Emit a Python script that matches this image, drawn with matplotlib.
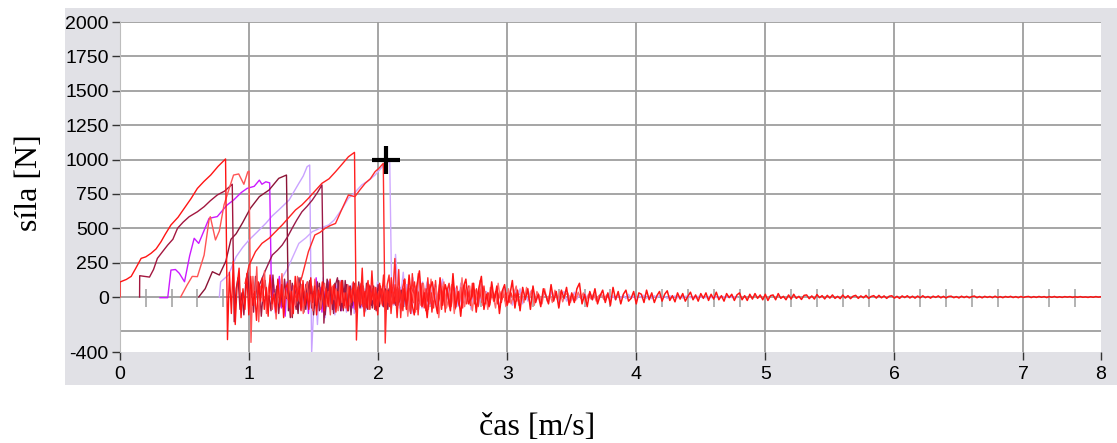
import numpy as np
import matplotlib
matplotlib.use("Agg")
import matplotlib.pyplot as plt
from matplotlib.patches import Rectangle

plt.rcParams['axes.unicode_minus'] = False

# ramps: (time, force) before failure, then the ringing after the drop
t_red1 = [0, 0, 0.05, 0.087, 0.12, 0.164, 0.20, 0.241, 0.28, 0.318, 0.35, 0.395, 0.45, 0.498, 0.55, 0.60, 0.65, 0.703, 0.76, 0.818]
f_red1 = [0, 109, 128, 150, 205, 281, 292, 318, 350, 402, 455, 524, 580, 645, 715, 790, 840, 887, 950, 1004]
n_red1 = [-310, 180, -120, 260, -200, 90, 210, -150, 60, -90, 170, -130, 150, -60, 40, -170, 110, -30, 140, -90,
          70, -140, 160, -50, 20, -110, 130, -70, 90, -150, 60, 100, -80, 40, -120, 150, -30, 70, -100, 120,
          -60, 30, -90, 140, -40, 80, -130, 50, -20, 110, -100, 60, -70, 130, -50, 90, -110, 40, -60, 120,
          -80, 30, -100, 70, -40, 110, -90, 50, -30, 100, -70, 40, -80, 90, -50, 60, -90, 30, -40, 80,
          -60, 50, -70, 40, -30, 70, -50, 30, -60, 50, -40, 60, -30, 40, -50, 30, -40, 50, -20, 40]

t_mar1 = [0.152, 0.153, 0.19, 0.229, 0.26, 0.29, 0.33, 0.37, 0.41, 0.446, 0.49, 0.536, 0.60, 0.652, 0.70, 0.754, 0.81, 0.87]
f_mar1 = [0, 155, 150, 145, 200, 281, 330, 378, 420, 500, 545, 584, 620, 657, 700, 742, 770, 820]
n_mar1 = [-180, 60, 140, -90, 30, -130, 110, 180, -40, 70, -110, 150, -20, 90, -140, 40, 120, -60, 10, -100,
          160, -30, 80, -120, 50, -70, 130, -10, 60, -150, 100, 20, -90, 140, -50, 30, -110, 90, -20, 120,
          -80, 40, -60, 110, -100, 20, 70, -130, 90, -30, 50, -90, 100, -40, 20, -80, 120, -60, 30, -100,
          80, -20, 60, -110, 70, -40, 90, -70, 30, -50, 80, -60, 40, -80, 60, -30, 50, -70, 40, -20, 60, -50, 30, -40, 50]

t_mag = [0.31, 0.37, 0.395, 0.43, 0.46, 0.50, 0.54, 0.575, 0.61, 0.65, 0.69, 0.754, 0.83, 0.88, 0.94, 0.985, 1.04, 1.08, 1.10, 1.13, 1.16]
f_mag = [-5, -5, 196, 200, 172, 111, 300, 427, 390, 480, 572, 585, 669, 705, 760, 790, 805, 850, 820, 838, 830]
n_mag = [-60, 90, -120, 40, 150, -80, 20, -140, 110, -40, 80, -100, 60, -20, 130, -90, 30, -60, 100, -120,
         50, 10, -80, 140, -30, 70, -110, 40, -50, 120, -70, 20, -90, 80, -40, 60, -100, 30, -20, 90,
         -60, 40, -80, 70, -30, 50, -70, 60, -40, 30, -60, 80, -20, 40, -50, 60, -30, 20, -40, 50,
         -30, 40, -20, 30, -40, 30, -20, 40, -30, 20]

t_pink = [0.47, 0.52, 0.56, 0.60, 0.652, 0.69, 0.70, 0.74, 0.77, 0.806, 0.85, 0.88, 0.92, 0.96, 0.99, 1.0]
f_pink = [0, 87, 150, 148, 305, 560, 584, 415, 480, 669, 800, 887, 895, 820, 910, 915]
n_pink = [-330, 150, -60, 220, -180, 80, -30, 190, -120, 60, 140, -90, 30, -160, 100, -40, 170, -110, 50, -20,
          120, -140, 80, -60, 150, -30, 90, -120, 40, 110, -70, 20, -100, 130, -50, 70, -90, 30, 100, -60,
          40, -130, 80, -20, 60, -100, 110, -40, 30, -80, 90, -60, 50, -30, 100, -70, 20, -50, 80, -40,
          60, -90, 30, -20, 70, -60, 40, -50, 60, -30, 50, -40, 30, -50, 40, -30]

t_mar2 = [0.61, 0.66, 0.716, 0.77, 0.82, 0.86, 0.90, 0.95, 1.01, 1.08, 1.155, 1.23, 1.29]
f_mar2 = [0, 60, 184, 160, 260, 420, 460, 540, 645, 730, 778, 863, 887]
n_mar2 = [-100, 120, -150, 60, 20, -120, 140, -70, 40, -90, 110, -30, 80, -130, 50, -10, 100, -80, 30, -110,
          130, -50, 70, -90, 40, -20, 120, -100, 60, -40, 90, -70, 20, -60, 100, -30, 50, -80, 70, -20,
          40, -90, 60, -50, 80, -30, 30, -70, 50, -40, 60, -20, 40, -60, 30, -30, 50, -40, 20, -30, 40, -20, 30, -30, 20]

t_lav1 = [0.77, 0.78, 0.84, 0.90, 0.95, 1.0, 1.06, 1.13, 1.18, 1.23, 1.31, 1.386, 1.42, 1.45, 1.47]
f_lav1 = [0, 110, 160, 293, 360, 415, 470, 536, 590, 633, 705, 827, 880, 948, 960]
n_lav1 = [-405, -100, 60, -200, 80, -60, 140, -150, 30, 110, -90, 50, -130, 90, -40, 120, -70, 20, -110, 80,
          -50, 100, -120, 40, -30, 90, -80, 60, -100, 30, 70, -60, 40, -90, 110, -20, 50, -70, 80, -40,
          30, -60, 90, -50, 20, -40, 70, -30, 50, -60, 40, -20, 60, -40, 30, -50, 40, -30, 20, -40, 30, -20]

t_red3 = [0.97, 1.0, 1.05, 1.10, 1.155, 1.20, 1.257, 1.31, 1.36, 1.41, 1.46, 1.51, 1.565, 1.62, 1.67, 1.72, 1.77, 1.817]
f_red3 = [100, 230, 330, 390, 427, 470, 524, 580, 633, 670, 718, 770, 827, 860, 911, 965, 1020, 1052]
n_red3 = [-313, 80, -60, 210, -140, 40, 120, -90, 190, -50, 70, -130, 100, -20, 160, -110, 50, -70, 140, -40,
          90, -150, 60, 20, -100, 130, -60, 80, -120, 40, 110, -90, 30, -50, 100, -80, 60, -30, 90, -110,
          40, 70, -60, 20, -90, 80, -40, 60, -70, 30, 90, -50, 20, -60, 70, -40, 50, -30, 80, -60,
          40, -50, 60, -20, 40, -40, 50, -30, 30, -40, 40, -20, 30, -30, 40, -20, 20, -30, 30, -20]

t_mar3 = [1.02, 1.08, 1.13, 1.18, 1.22, 1.257, 1.30, 1.334, 1.37, 1.41, 1.45, 1.49, 1.53, 1.565]
f_mar3 = [0, 87, 200, 305, 340, 378, 440, 500, 560, 620, 660, 705, 760, 815]
n_mar3 = [-190, 60, 110, -80, 30, -120, 90, 140, -50, 20, -100, 120, -40, 80, -130, 60, 10, -90, 110, -60,
          40, -110, 100, -20, 70, -80, 50, -100, 90, -30, 60, -70, 30, -90, 80, -40, 20, -60, 70, -30,
          50, -70, 40, -20, 60, -50, 30, -40, 50, -30, 40, -20, 30, -40, 30, -20]

t_lav2 = [1.22, 1.25, 1.30, 1.386, 1.44, 1.49, 1.55, 1.617, 1.66, 1.72, 1.77, 1.82, 1.873, 1.93, 1.976, 2.04, 2.09]
f_lav2 = [0, 130, 210, 390, 430, 475, 500, 524, 560, 640, 718, 760, 815, 850, 887, 955, 991]
n_lav2 = [40, -60, 310, 120, -80, 60, 180, -40, 90, -100, 50, 140, -30, 70, -90, 40, 110, -60, 20, -80,
          100, -40, 60, -70, 30, 80, -50, 40, -60, 70, -30, 50, -40, 60, -20, 40, -50, 30, -30, 40,
          -20, 30, -30, 20, -20, 30, -20, 20]

t_red4 = [1.36, 1.41, 1.46, 1.51, 1.55, 1.59, 1.63, 1.67, 1.72, 1.77, 1.82, 1.86, 1.90, 1.94, 1.976, 2.01, 2.04]
f_red4 = [0, 148, 330, 451, 470, 500, 520, 535, 640, 742, 730, 780, 827, 860, 911, 940, 972]
n_red4 = [-335, 90, 160, -120, 40, 280, -60, 200, -150, 70, 130, -90, 50, -110, 170, -40, 80, -130, 110, -30,
          60, -100, 140, -50, 30, -80, 120, -60, 90, -40, 70, -110, 50, 100, -70, 30, -90, 80, -20, 60,
          -80, 90, -50, 40, -60, 100, -30, 50, -70, 60, -40, 80, -50, 30, -60, 50, -30, 40, -50, 30,
          -40, 40, -30, 30, -40, 30, -20, 30, -30, 20]

# long decaying tails, all starting at 2.2 s and sampled every 0.02 s
tail_start = 2.2
tail_lav = [-60, 90, 30, -120, 70, -30, 150, -80, 20, 110, -60, -20, 90, -100, 40, 130, -50, 10, -90, 80,
            60, -70, 100, -40, -10, 80, -90, 50, 20, -60, 90, -30, 40, -70, 60, -20, 50, -80, 30, 70,
            -40, 20, -60, 50, -10, 60, -50, 30, -30, 40, 50, -40, 20, -50, 30, 10, -40, 45, -20, 30,
            -35, 15, 40, -30, 10, -25, 35, -15, 20, -30, 25, -10, 30, -20, 15, -25, 20, 5, -20, 25,
            -15, 10, -20, 18, -8, 15, -12, 20, -10, 8, -15, 12, -5, 14, -10, 8, -12, 10, -6, 12,
            -8, 6, -10, 9, -5, 8, -7, 6, -8, 5, 7, -6, 4, -7, 6, -3, 5, -6, 4, -5, 6, -4, 3, -5, 4, -3, 5, -4, 3, -4]
tail_pink = [90, -140, 60, 20, -110, 170, -60, 100, -30, -90, 130, -20, 70, -150, 40, 110, -80, 10, 90, -120,
             60, -40, 140, -70, 30, 80, -100, 50, -20, 120, -60, 40, -90, 70, 10, -80, 100, -30, 50, -70,
             60, -50, 20, 80, -60, 30, -40, 70, -20, 50, -60, 40, 10, -50, 60, -30, 20, -40, 50, -20,
             40, -35, 15, 30, -40, 20, -25, 35, -10, 30, -30, 20, -15, 25, -30, 10, 20, -20, 15, -10]
tail_red = [120, -90, 160, -40, -130, 80, 190, -70, 30, -150, 60, 110, -20, -120, 140, -60, 90, 20, -100, 170,
            -80, 40, -140, 70, 130, -50, -10, 100, -110, 60, 150, -90, 20, -70, 110, -30, 80, -120, 40, 90,
            -60, 10, 120, -80, 50, -100, 70, -20, 60, -90,
            80, -40, 20, -70, 60, 10, -50, 90, -30, 40, -80, 50, -10, 70, -60, 30, -40, 60, 100, -50,
            20, -70, 40, -20, 60, -50, 10, 50, -40, 30, -60, 70, -20, 40, -50, 20, 50, -30, -10, 40,
            -50, 30, 20, -40, 50, -20, 30, -40, 10, 40,
            -30, 20, 45, -25, 10, -35, 30, -15, 25, -30, 5, 35, -20, 15, -30, 25, -10, 30, -25, 20,
            -15, 35, -20, 10, -30, 25, -5, 20, -25, 15, 30, -20, 10, -25, 20, -15, 25, -10, 15, -20,
            20, -25, 10, 15, -20, 25, -10, 5, -20, 15,
            -15, 20, -10, 5, -18, 12, 15, -12, 8, -15, 18, -5, 10, -14, 12, -8, 15, -10, 5, -12,
            14, -8, 10, -12, 6, 12, -10, 8, -6, 12, -10, 4, 10, -8, 12, -6, 8, -10, 6, 9,
            -8, 5, -10, 8, -4, 9, -7, 6, -8, 7,
            -6, 9, -5, 4, -8, 6, -3, 8, -6, 5, -7, 4, 6, -5, 3, -7, 6, -4, 5, -6, 3, 7, -5, 4, -6,
            5, -3, 4, -5, 6, -4, 3, -5, 4, -2, 5, -4, 3, -5, 4, -3, 2, 4, -4, 3, -3, 4, -2, 3, -4,
            3, -2, 4, -3, 2, -3, 3, -1, 3, -3, 2, -2, 3, -2, 1, -3, 2, -2, 3, -1, 2, -2, 1, -2, 2,
            -1, 2, -2, 1, -1, 2, -1, 1, -2, 1, -1, 2, -1, 1, -1]

y_ticks = [-400, 0, 250, 500, 750, 1000, 1250, 1500, 1750, 2000]
y_grid = [-250, 0, 250, 500, 750, 1000, 1250, 1500, 1750, 2000]
x_end = 7.6
x_ticks = [0, 1, 2, 3, 4, 5, 6, 7, x_end]
x_labels = ['0', '1', '2', '3', '4', '5', '6', '7', '8']
cursor = (2.06, 1000)

series = [
    (t_lav1, f_lav1, n_lav1, '#c9a2ff'),
    (t_lav2, f_lav2, n_lav2, '#cfa9ff'),
    (t_mag, f_mag, n_mag, '#cc1aff'),
    (t_mar2, f_mar2, n_mar2, '#8c1436'),
    (t_mar1, f_mar1, n_mar1, '#a3173f'),
    (t_mar3, f_mar3, n_mar3, '#9a1a48'),
    (t_pink, f_pink, n_pink, '#ff5454'),
    (t_red1, f_red1, n_red1, '#ff1414'),
    (t_red3, f_red3, n_red3, '#ff2020'),
    (t_red4, f_red4, n_red4, '#ff2a2a'),
]

fig = plt.figure(figsize=(11.17, 4.43), dpi=100)
fig.patches.append(Rectangle((0.0582, 0.1309), 0.9418, 0.851, transform=fig.transFigure,
                             facecolor='#e1e1e6', edgecolor='none', zorder=-1))
ax = fig.add_axes([0.1074, 0.2054, 0.8782, 0.7449])
ax.set_zorder(1)
ax.set_facecolor('white')

for y in y_grid:
    ax.axhline(y, color='#9e9e9e', lw=1.3, zorder=1)
for x in range(1, 8):
    ax.axvline(x, color='#9e9e9e', lw=1.3, zorder=1)
minor = [i / 5 for i in range(1, 38) if i % 5 != 0]
ax.vlines(minor, -70, 55, color='#9e9e9e', lw=1.1, zorder=1)

dt = 0.015
ts = 0.02
ax.plot(tail_start + ts * np.arange(len(tail_lav)), tail_lav, color='#c9a2ff', lw=1.0, zorder=2)
for t, f, n, c in series:
    tn = t[-1] + dt * np.arange(1, len(n) + 1)
    ax.plot(np.r_[t, tn], np.r_[f, n], color=c, lw=1.0, zorder=3)
ax.plot(tail_start + 0.01 + ts * np.arange(len(tail_pink)), tail_pink, color='#ff6a6a', lw=1.0, zorder=3)
ax.plot(tail_start + ts * np.arange(len(tail_red)), tail_red, color='#ff1414', lw=1.1, zorder=3)

ax.plot(*cursor, marker='+', markersize=20, mew=3, color='black', zorder=5)

ax.set_xlim(0, x_end)
ax.set_ylim(-400, 2000)
ax.set_yticks(y_ticks)
ax.set_xticks(x_ticks)
ax.set_xticklabels(x_labels)
for s in ['top', 'right', 'bottom']:
    ax.spines[s].set_visible(False)
ax.spines['left'].set_color('#bdbdbd')
ax.tick_params(axis='both', length=6, width=1, color='#333333', labelsize=14)
ax.tick_params(axis='y', pad=2)
ax.tick_params(axis='x', pad=4)
for lab in ax.get_xticklabels() + ax.get_yticklabels():
    lab.set_fontfamily('Liberation Sans')

fig.text(0.481, 0.034, 'čas [m/s]', family='Liberation Serif', fontsize=23, ha='center', va='center')
fig.text(0.026, 0.588, 'síla [N]', family='Liberation Serif', fontsize=23, rotation=90, ha='center', va='center')

fig.savefig('out.png', dpi=100)
